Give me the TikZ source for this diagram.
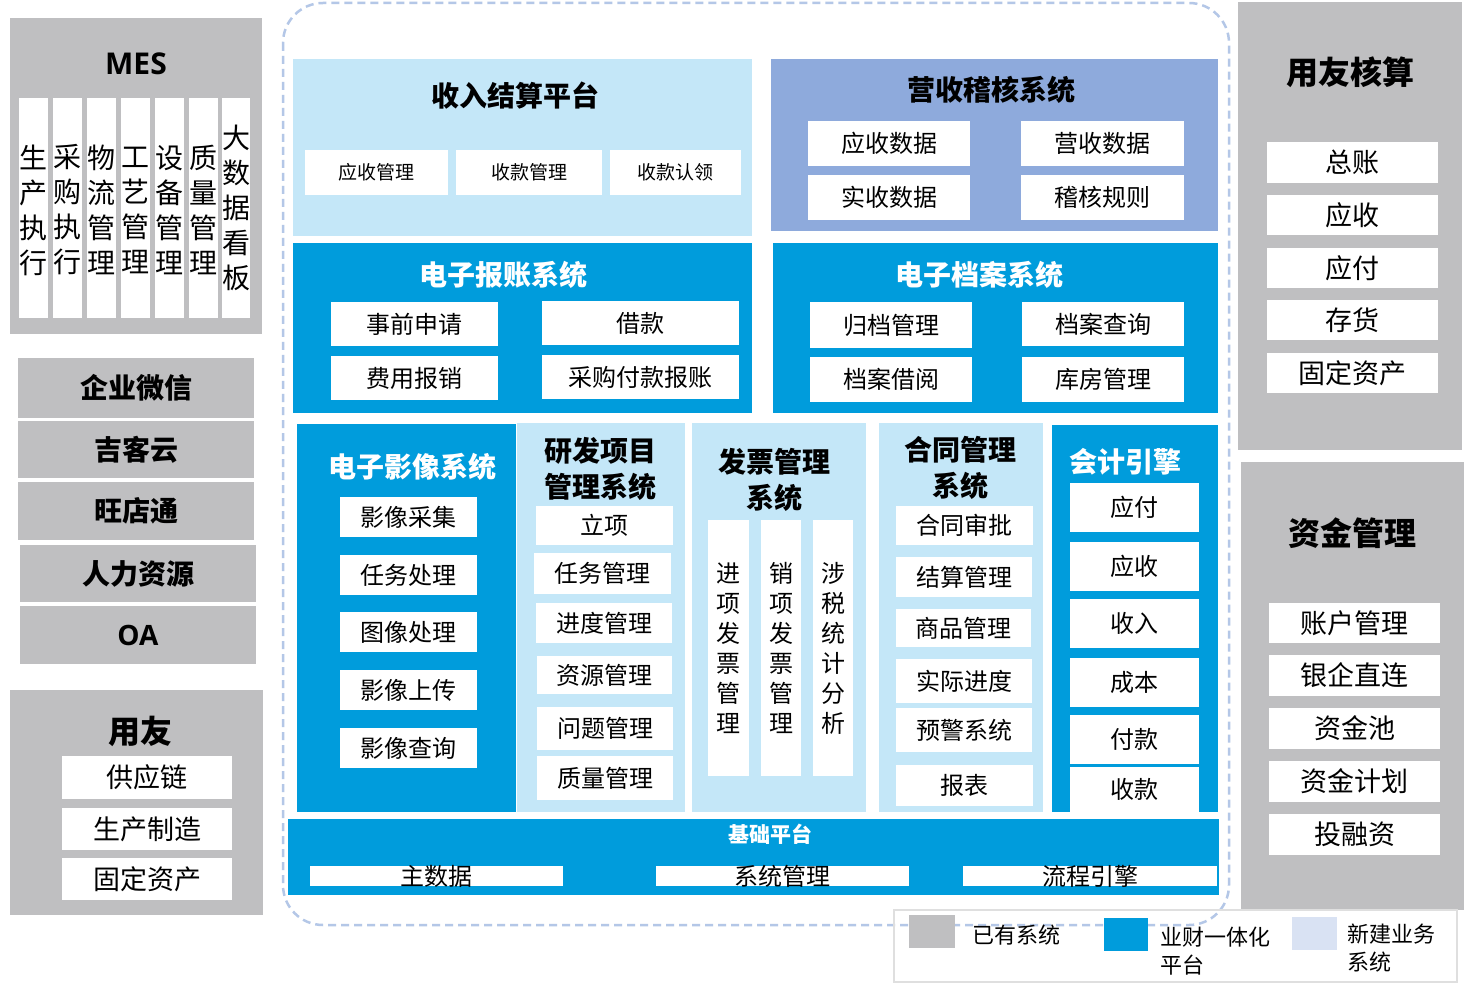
\documentclass[tikz,border=0pt]{standalone}
\usepackage{fontspec}
\setmainfont{Noto Sans CJK SC}
\newfontfamily\latinb{Open Sans}
\definecolor{gr}{HTML}{BFBFC1}
\definecolor{lb}{HTML}{C4E7F8}
\definecolor{mb}{HTML}{8EAADC}
\definecolor{bb}{HTML}{009CDC}
\definecolor{lg}{HTML}{D9E2F3}
\definecolor{dsh}{HTML}{B4C7E7}
\newcommand\R[8][]{\path[fill=#7] (#3,#4) rectangle (#5,#6) node[pos=.5,inner sep=0pt,#1] (#2) {#8};}
\newcommand\W[7][]{\path[fill=white] (#2,#3) rectangle (#4,#5) node[pos=.5,inner sep=0pt,font=\fontsize{#6}{#6}\selectfont,#1] (n#2x#3) {#7};}
\tikzset{ttl/.style={font=\fontsize{28}{34}\selectfont\bfseries,align=center,inner sep=0pt},
wt/.style={ttl,text=white},
vt/.style={align=center,inner sep=0pt}}
\begin{document}
\begin{tikzpicture}[x=1pt,y=-1pt]
\useasboundingbox (0,0) rectangle (1465,992);
\fill[white] (0,0) rectangle (1465,992);
% dashed frame
\draw[dsh,line width=2.5pt,dash pattern=on 8pt off 5pt,rounded corners=40pt] (283,3) rectangle (1229,925);
% MES
\fill[gr] (10,18) rectangle (262,334);
\node[ttl,font=\latinb\fontsize{30}{34}\selectfont\bfseries] (mes) at (136,64) {MES};
\foreach \a/\b/\t/\yy in {19/48/{生\\产\\执\\行}/210,53/82/{采\\购\\执\\行}/210,87/116/{物\\流\\管\\理}/210,121/150/{工\\艺\\管\\理}/210,155/184/{设\\备\\管\\理}/210,189/218/{质\\量\\管\\理}/210,222/250/{大\\数\\据\\看\\板}/208}{
\fill[white] (\a,98) rectangle (\b,318);
\node[vt,font=\fontsize{28}{35}\selectfont] (m\a) at ({(\a+\b)/2},\yy) {\t};}
% gray stack
\R[ttl]{g1}{18}{358}{254}{418}{gr}{企业微信}
\R[ttl]{g2}{18}{421}{254}{478}{gr}{吉客云}
\R[ttl]{g3}{18}{482}{254}{540}{gr}{旺店通}
\R[ttl]{g4}{20}{545}{256}{602}{gr}{人力资源}
\R[ttl,font=\latinb\fontsize{28}{34}\selectfont\bfseries]{g5}{20}{606}{256}{664}{gr}{OA}
% yonyou
\fill[gr] (10,690) rectangle (263,915);
\node[ttl,font=\fontsize{32}{34}\selectfont\bfseries] (yy) at (140,731) {用友};
\W{62}{756}{232}{799}{27}{供应链}
\W{62}{808}{232}{850}{27}{生产制造}
\W{62}{858}{232}{900}{27}{固定资产}
% 收入结算平台
\fill[lb] (293,59) rectangle (752,236);
\node[ttl] (t1) at (515,96) {收入结算平台};
\W{305}{150}{448}{195}{19}{应收管理}
\W{456}{150}{602}{195}{19}{收款管理}
\W{610}{150}{741}{195}{19}{收款认领}
% 营收稽核系统
\fill[mb] (771,59) rectangle (1218,231);
\node[ttl] (t2) at (991,90) {营收稽核系统};
\W{808}{121}{970}{166}{24}{应收数据}
\W{1021}{121}{1184}{166}{24}{营收数据}
\W{808}{175}{970}{220}{24}{实收数据}
\W{1021}{175}{1184}{220}{24}{稽核规则}
% 电子报账系统
\fill[bb] (293,243) rectangle (752,413);
\node[wt] (t3) at (503,275) {电子报账系统};
\W{331}{302}{498}{346}{24}{事前申请}
\W{542}{301}{739}{345}{24}{借款}
\W{331}{356}{498}{400}{24}{费用报销}
\W{542}{355}{739}{399}{24}{采购付款报账}
% 电子档案系统
\fill[bb] (773,243) rectangle (1218,413);
\node[wt] (t4) at (979,275) {电子档案系统};
\W{810}{302}{972}{348}{24}{归档管理}
\W{1022}{302}{1184}{346}{24}{档案查询}
\W{810}{357}{972}{402}{24}{档案借阅}
\W{1022}{357}{1184}{402}{24}{库房管理}
% 电子影像系统
\fill[bb] (297,424) rectangle (516,812);
\node[wt] (t5) at (412,467) {电子影像系统};
\W{340}{497}{477}{537}{24}{影像采集}
\W{340}{555}{477}{595}{24}{任务处理}
\W{340}{612}{477}{652}{24}{图像处理}
\W{340}{670}{477}{710}{24}{影像上传}
\W{340}{728}{477}{768}{24}{影像查询}
% 研发项目管理系统
\fill[lb] (517,423) rectangle (685,812);
\node[ttl,font=\fontsize{28}{36}\selectfont\bfseries] (t6) at (600,469) {研发项目\\管理系统};
\W{536}{506}{673}{545}{24}{立项}
\W{534}{553}{671}{594}{24}{任务管理}
\W{536}{603}{672}{643}{24}{进度管理}
\W{537}{656}{672}{694}{24}{资源管理}
\W{537}{707}{673}{750}{24}{问题管理}
\W{537}{756}{673}{800}{24}{质量管理}
% 发票管理系统
\fill[lb] (692,423) rectangle (866,812);
\node[ttl,font=\fontsize{28}{36}\selectfont\bfseries] (t7) at (774,480) {发票管理\\系统};
\foreach \a/\b/\t in {708/749/{进\\项\\发\\票\\管\\理},761/801/{销\\项\\发\\票\\管\\理},813/853/{涉\\税\\统\\计\\分\\析}}{
\fill[white] (\a,520) rectangle (\b,776);
\node[vt,font=\fontsize{24}{30}\selectfont] (f\a) at ({(\a+\b)/2},648) {\t};}
% 合同管理系统
\fill[lb] (879,423) rectangle (1043,812);
\node[ttl,font=\fontsize{28}{36}\selectfont\bfseries] (t8) at (960,468) {合同管理\\系统};
\W{896}{506}{1033}{545}{24}{合同审批}
\W{896}{557}{1032}{597}{24}{结算管理}
\W{896}{609}{1031}{647}{24}{商品管理}
\W{896}{659}{1032}{703}{24}{实际进度}
\W{896}{708}{1032}{752}{24}{预警系统}
\W{896}{765}{1033}{806}{24}{报表}
% 会计引擎
\fill[bb] (1052,425) rectangle (1218,812);
\node[wt] (t9) at (1125,462) {会计引擎};
\W{1070}{483}{1199}{532}{24}{应付}
\W{1070}{542}{1199}{591}{24}{应收}
\W{1070}{599}{1199}{648}{24}{收入}
\W{1070}{658}{1199}{707}{24}{成本}
\W{1070}{715}{1199}{764}{24}{付款}
\W{1070}{767}{1199}{812}{24}{收款}
% 基础平台
\fill[bb] (288,819) rectangle (1219,895);
\node[wt,font=\fontsize{21}{24}\selectfont\bfseries] (t10) at (770,834) {基础平台};
\W{310}{866}{563}{886}{24}{主数据}
\W{656}{866}{909}{886}{24}{系统管理}
\W{963}{866}{1217}{886}{24}{流程引擎}
% 用友核算
\fill[gr] (1238,2) rectangle (1462,450);
\node[ttl,font=\fontsize{32}{34}\selectfont\bfseries] (t11) at (1350,72) {用友核算};
\W{1267}{142}{1438}{183}{27}{总账}
\W{1267}{195}{1438}{235}{27}{应收}
\W{1267}{248}{1438}{288}{27}{应付}
\W{1267}{300}{1438}{340}{27}{存货}
\W{1267}{353}{1438}{393}{27}{固定资产}
% 资金管理
\fill[gr] (1241,462) rectangle (1464,910);
\node[ttl,font=\fontsize{32}{34}\selectfont\bfseries] (t12) at (1352,533) {资金管理};
\W{1269}{603}{1440}{643}{27}{账户管理}
\W{1269}{655}{1440}{696}{27}{银企直连}
\W{1269}{708}{1440}{749}{27}{资金池}
\W{1269}{761}{1440}{802}{27}{资金计划}
\W{1269}{814}{1440}{855}{27}{投融资}
% legend
\draw[gray!25,line width=2pt] (894,910) rectangle (1457,982);
\fill[gr] (909,915) rectangle (955,948);
\node[anchor=west,inner sep=0pt,font=\fontsize{22}{26}\selectfont] (l1) at (972,935) {已有系统};
\fill[bb] (1104,918) rectangle (1148,951);
\node[anchor=west,inner sep=0pt,align=left,font=\fontsize{22}{28}\selectfont] (l2) at (1160,951) {业财一体化\\平台};
\fill[lg] (1292,917) rectangle (1337,950);
\node[anchor=west,inner sep=0pt,align=left,font=\fontsize{22}{28}\selectfont] (l3) at (1347,948) {新建业务\\系统};
\end{tikzpicture}
\end{document}
